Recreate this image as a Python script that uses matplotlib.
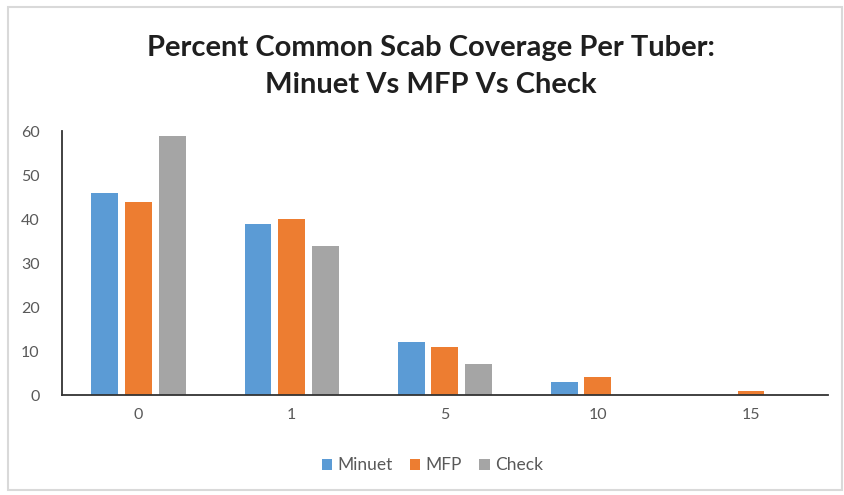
import numpy as np
import matplotlib.pyplot as plt
from matplotlib.patches import Rectangle

# percent scab coverage classes and share of tubers in each
categories = ['0', '1', '5', '10', '15']
minuet = [46, 39, 12, 3, 0]
mfp = [44, 40, 11, 4, 1]
check = [59, 34, 7, 0, 0]

series = [('Minuet', minuet, '#5B9BD5'),
          ('MFP', mfp, '#ED7D31'),
          ('Check', check, '#A5A5A5')]

plt.rcParams['font.family'] = ['Lato', 'DejaVu Sans']

fig = plt.figure(figsize=(8.44, 4.95), dpi=100)
fig.patches.append(Rectangle((0.010, 0.010), 0.988, 0.975, transform=fig.transFigure,
                             fill=False, edgecolor='#D9D9D9', linewidth=1.5))

ax = fig.add_axes([0.0735, 0.202, 0.907, 0.533])
x = np.arange(len(categories))
width = 0.176
step = 0.22
for i, (name, vals, color) in enumerate(series):
    ax.bar(x + (i - 1) * step, vals, width, color=color, label=name)

ax.set_xlim(-0.5, 4.5)
ax.set_ylim(0, 60)
ax.set_yticks(range(0, 61, 10))
ax.set_xticks(x)
ax.set_xticklabels(categories)
ax.tick_params(axis='both', length=0, labelsize=11.5, labelcolor='#595959')
ax.tick_params(axis='x', pad=9)
ax.tick_params(axis='y', pad=16)
for side in ['top', 'right']:
    ax.spines[side].set_visible(False)
for side in ['left', 'bottom']:
    ax.spines[side].set_color('#333333')
    ax.spines[side].set_linewidth(1.3)

fig.text(0.511, 0.866, 'Percent Common Scab Coverage Per Tuber:\nMinuet Vs MFP Vs Check',
         ha='center', va='center', fontsize=21, fontweight='bold', color='#1F1F1F',
         linespacing=1.5)

fig.legend(loc='center', bbox_to_anchor=(0.512, 0.06), ncol=3, frameon=False,
           fontsize=12.5, labelcolor='#595959', handlelength=0.6, handleheight=0.6,
           handletextpad=0.3, columnspacing=1.0)

fig.savefig('out.png', dpi=100, facecolor='white')
